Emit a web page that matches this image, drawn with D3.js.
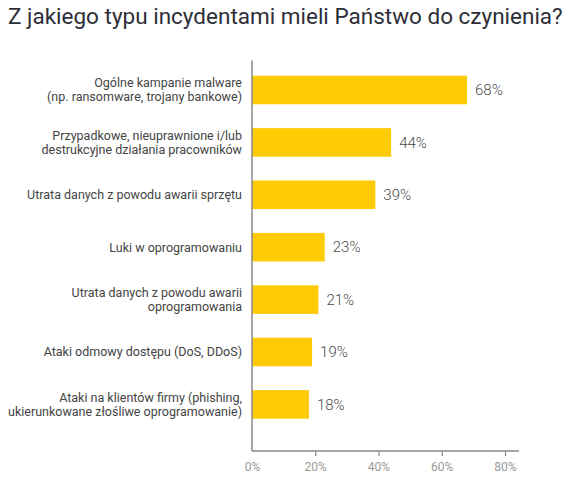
<!DOCTYPE html>
<html>
<head>
<meta charset="utf-8">
<script src="https://cdn.jsdelivr.net/npm/d3@7"></script>
<style>
  body { margin: 0; background: #fff; }
  svg { display: block; font-family: Roboto, "Open Sans", sans-serif; }
</style>
</head>
<body>
<div id="chart"></div>
<script>
const title = 'Z jakiego typu incydentami mieli Państwo do czynienia?';

const categories = [
  'Ogólne kampanie malware\n(np. ransomware, trojany bankowe)',
  'Przypadkowe, nieuprawnione i/lub\ndestrukcyjne działania pracowników',
  'Utrata danych z powodu awarii sprzętu',
  'Luki w oprogramowaniu',
  'Utrata danych z powodu awarii\noprogramowania',
  'Ataki odmowy dostępu (DoS, DDoS)',
  'Ataki na klientów firmy (phishing,\nukierunkowane złośliwe oprogramowanie)'
];
const values = [68, 44, 39, 23, 21, 19, 18];
const xTicks = [0, 20, 40, 60, 80];

const width = 572;
const height = 480;
const axisX = 252;
const axisY = 451;

const svg = d3.select('#chart')
  .append('svg')
  .attr('width', width)
  .attr('height', height);

// title, fitted to the width it takes in the original
const t = svg.append('text')
  .attr('x', 8)
  .attr('y', 23.5)
  .attr('fill', '#2e2e38')
  .style('font-size', '19px')
  .text(title);
const tw = t.node().getComputedTextLength();
t.style('font-size', (19 * 555 / tw).toFixed(2) + 'px');

const x = d3.scaleLinear()
  .domain([0, 80])
  .range([axisX, 505]);

const y = d3.scaleBand()
  .domain(categories)
  .range([63.8, 430.6])
  .paddingInner(0.455)
  .paddingOuter(0.2275);

// bars
svg.selectAll('.bar')
  .data(values)
  .enter().append('rect')
  .attr('class', 'bar')
  .attr('x', x(0))
  .attr('y', (d, i) => y(categories[i]))
  .attr('width', d => x(d) - x(0))
  .attr('height', y.bandwidth())
  .attr('fill', '#ffcb05');

// value labels
svg.selectAll('.val')
  .data(values)
  .enter().append('text')
  .attr('class', 'val')
  .attr('x', d => x(d) + 8)
  .attr('y', (d, i) => y(categories[i]) + y.bandwidth() / 2)
  .attr('dy', '0.35em')
  .attr('fill', '#4a4a4a')
  .style('font-size', '15px')
  .style('font-weight', 300)
  .text(d => d + '%');

// category labels
const lab = svg.selectAll('.cat')
  .data(categories)
  .enter().append('text')
  .attr('class', 'cat')
  .attr('text-anchor', 'end')
  .attr('fill', '#444')
  .style('font-size', '12.5px');

lab.each(function (d) {
  const lines = d.split('\n');
  const cy = y(d) + y.bandwidth() / 2;
  const lh = 13.8;
  lines.forEach((line, k) => {
    d3.select(this).append('tspan')
      .attr('x', 242)
      .attr('y', cy + (k - (lines.length - 1) / 2) * lh)
      .attr('dy', '0.35em')
      .text(line);
  });
});

// x-axis
const xAxis = svg.append('g')
  .attr('transform', `translate(0,${axisY})`)
  .call(d3.axisBottom(x)
    .tickValues(xTicks)
    .tickSize(5)
    .tickPadding(6)
    .tickFormat(d => d + '%'));
xAxis.select('.domain').remove();
xAxis.selectAll('.tick line').attr('stroke', '#888').attr('stroke-width', 1.2);
xAxis.selectAll('.tick')
  .filter(d => d === 0)
  .select('line').remove();
xAxis.selectAll('text')
  .attr('fill', '#999')
  .style('font-size', '12px')
  .style('font-family', 'Roboto, sans-serif');

svg.append('line')
  .attr('x1', axisX).attr('x2', 519)
  .attr('y1', axisY).attr('y2', axisY)
  .attr('stroke', '#888')
  .attr('stroke-width', 1.5);

// y-axis line
svg.append('line')
  .attr('x1', axisX).attr('x2', axisX)
  .attr('y1', 60.5).attr('y2', axisY)
  .attr('stroke', '#888')
  .attr('stroke-width', 1.5);
</script>
</body>
</html>
